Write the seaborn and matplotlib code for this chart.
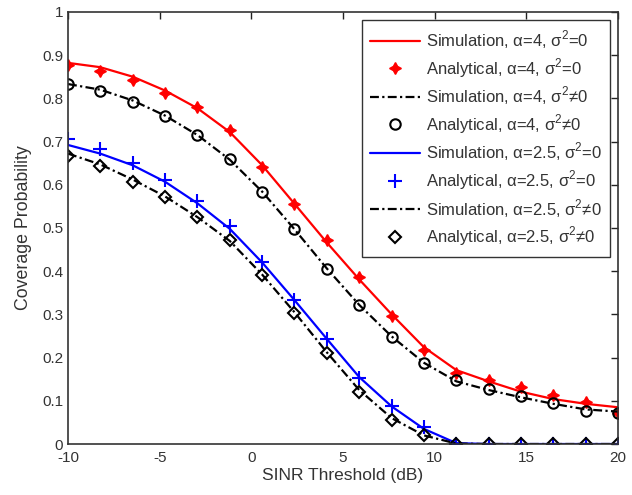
import numpy as np
import matplotlib
matplotlib.use("Agg")
import matplotlib.pyplot as plt
import seaborn as sns

# SINR threshold grid (dB), 18 points from -10 to 20
sinr = [-10, -8.24, -6.47, -4.71, -2.94, -1.18, 0.59, 2.35, 4.12,
        5.88, 7.65, 9.41, 11.18, 12.94, 14.71, 16.47, 18.24, 20]

# alpha = 4, sigma^2 = 0
sim_a4_n0 = [0.882, 0.872, 0.850, 0.818, 0.777, 0.722, 0.645, 0.556, 0.466,
             0.381, 0.300, 0.224, 0.171, 0.145, 0.121, 0.104, 0.093, 0.085]
ana_a4_n0 = [0.876, 0.864, 0.843, 0.812, 0.779, 0.727, 0.642, 0.556, 0.472,
             0.387, 0.297, 0.218, 0.164, 0.147, 0.133, 0.113, 0.098, 0.071]

# alpha = 4, sigma^2 != 0
sim_a4_n1 = [0.833, 0.820, 0.795, 0.760, 0.715, 0.658, 0.584, 0.497, 0.406,
             0.322, 0.249, 0.188, 0.145, 0.125, 0.108, 0.093, 0.080, 0.075]
ana_a4_n1 = [0.833, 0.818, 0.792, 0.758, 0.715, 0.659, 0.584, 0.497, 0.404,
             0.322, 0.247, 0.187, 0.147, 0.127, 0.110, 0.094, 0.077, 0.072]

# alpha = 2.5, sigma^2 = 0
sim_a25_n0 = [0.692, 0.672, 0.645, 0.607, 0.557, 0.498, 0.420, 0.333, 0.243,
              0.155, 0.087, 0.035, 0.002, 0, 0, 0, 0, 0]
ana_a25_n0 = [0.705, 0.683, 0.651, 0.611, 0.562, 0.505, 0.421, 0.333, 0.242,
              0.153, 0.088, 0.039, 0, 0, 0, 0, 0, 0]

# alpha = 2.5, sigma^2 != 0
sim_a25_n1 = [0.672, 0.647, 0.612, 0.573, 0.525, 0.470, 0.392, 0.305, 0.212,
              0.125, 0.060, 0.020, 0.001, 0, 0, 0, 0, 0]
ana_a25_n1 = [0.667, 0.644, 0.607, 0.572, 0.525, 0.472, 0.391, 0.304, 0.210,
              0.121, 0.056, 0.021, 0, 0, 0, 0, 0, 0]

sns.set_style("white")
plt.rcParams["font.family"] = ["Liberation Sans", "DejaVu Sans"]
plt.rcParams["mathtext.fontset"] = "custom"
plt.rcParams["mathtext.rm"] = "Liberation Sans"
plt.rcParams["axes.unicode_minus"] = False
plt.rcParams["xtick.direction"] = "in"
plt.rcParams["ytick.direction"] = "in"

fig = plt.figure(figsize=(6.32, 4.95), dpi=100)
ax = fig.add_axes([0.1076, 0.103, 0.8704, 0.873])

lw = 1.6
dd = (4, 1.5, 1, 1.5)
sns.lineplot(x=sinr, y=sim_a4_n0, color="red", lw=lw, estimator=None, sort=False,
             label="Simulation, α=4, σ$^2$=0", ax=ax)
sns.lineplot(x=sinr, y=ana_a4_n0, color="red", linestyle="none", marker=(4, 1, 0),
             markersize=8.5, markeredgecolor="red", markeredgewidth=1.0,
             estimator=None, sort=False, label="Analytical, α=4, σ$^2$=0", ax=ax)
sns.lineplot(x=sinr, y=sim_a4_n1, color="black", lw=lw, dashes=dd, estimator=None,
             sort=False, label="Simulation, α=4, σ$^2$≠0", ax=ax)
sns.lineplot(x=sinr, y=ana_a4_n1, color="black", linestyle="none", marker="o",
             markersize=7.5, markerfacecolor="none", markeredgecolor="black",
             markeredgewidth=1.5, estimator=None, sort=False,
             label="Analytical, α=4, σ$^2$≠0", ax=ax)
sns.lineplot(x=sinr, y=sim_a25_n0, color="blue", lw=lw, estimator=None, sort=False,
             label="Simulation, α=2.5, σ$^2$=0", ax=ax)
sns.lineplot(x=sinr, y=ana_a25_n0, color="blue", linestyle="none", marker="+",
             markersize=10, markeredgecolor="blue", markeredgewidth=1.5,
             estimator=None, sort=False, label="Analytical, α=2.5, σ$^2$=0", ax=ax)
sns.lineplot(x=sinr, y=sim_a25_n1, color="black", lw=lw, dashes=dd, estimator=None,
             sort=False, label="Simulation, α=2.5, σ$^2$≠0", ax=ax)
sns.lineplot(x=sinr, y=ana_a25_n1, color="black", linestyle="none", marker="D",
             markersize=6.5, markerfacecolor="none", markeredgecolor="black",
             markeredgewidth=1.5, estimator=None, sort=False,
             label="Analytical, α=2.5, σ$^2$≠0", ax=ax)

ax.set_xlim(-10, 20)
ax.set_ylim(0, 1)
ax.set_xticks([-10, -5, 0, 5, 10, 15, 20])
ax.set_yticks(np.arange(0, 1.01, 0.1))
ax.set_yticklabels(["0", "0.1", "0.2", "0.3", "0.4", "0.5", "0.6", "0.7", "0.8", "0.9", "1"])
ax.tick_params(axis="both", labelsize=11, length=5, width=1, top=True, right=True,
               colors="#222222", labelcolor="#333333")
ax.tick_params(axis="x", pad=5)
for s in ax.spines.values():
    s.set_color("#333333")
    s.set_linewidth(1.2)

ax.set_xlabel("SINR Threshold (dB)", fontsize=12.5, color="#333333", labelpad=2)
ax.set_ylabel("Coverage Probability", fontsize=12.8, color="#333333", labelpad=7)

h, l = ax.get_legend_handles_labels()
leg = ax.legend(h, l, loc="upper right", bbox_to_anchor=(0.9855, 0.981), fontsize=12,
                frameon=True, fancybox=False, framealpha=1, edgecolor="#333333",
                handlelength=2.95, handletextpad=0.36, labelspacing=0.3,
                borderpad=0.5, borderaxespad=0)
leg.get_frame().set_linewidth(1.0)
for t in leg.get_texts():
    t.set_color("#333333")

fig.savefig("out.png", dpi=100)
